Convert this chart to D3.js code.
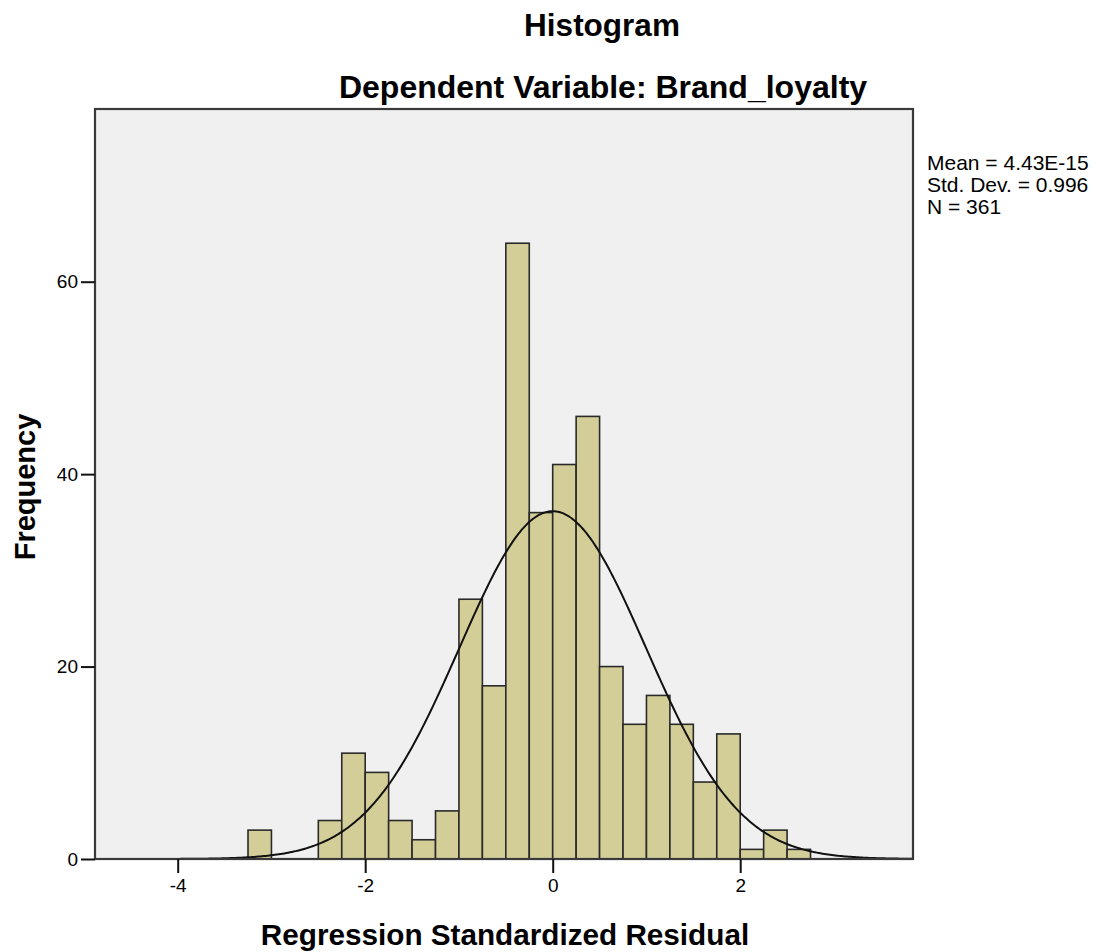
<!DOCTYPE html>
<html>
<head>
<meta charset="utf-8">
<script src="https://cdn.jsdelivr.net/npm/d3@7/dist/d3.min.js"></script>
<style>
  html, body { margin: 0; padding: 0; background: #ffffff; }
  svg { display: block; }
  text { font-family: "Liberation Sans", Arial, sans-serif; fill: #000; }
</style>
</head>
<body>
<svg id="chart" width="1096" height="952"></svg>
<script>
// ---- data ----
const binStarts = [-3.25, -3.0, -2.75, -2.5, -2.25, -2.0, -1.75, -1.5, -1.25, -1.0, -0.75, -0.5, -0.25,
                   0.0, 0.25, 0.5, 0.75, 1.0, 1.25, 1.5, 1.75, 2.0, 2.25, 2.5];
const frequencies = [3, 0, 0, 4, 11, 9, 4, 2, 5, 27, 18, 64, 36,
                     41, 46, 20, 14, 17, 14, 8, 13, 1, 3, 1];
const binWidth = 0.25;
const xTicks = [-4, -2, 0, 2];
const yTicks = [0, 20, 40, 60];
const statMean = 4.43e-15;
const statSD = 0.996;
const statN = 361;
const legendLines = ["Mean = 4.43E-15", "Std. Dev. = 0.996", "N = 361"];
const titleText = "Histogram";
const subtitleText = "Dependent Variable: Brand_loyalty";
const xLabel = "Regression Standardized Residual";
const yLabel = "Frequency";

// ---- layout ----
const plot = { left: 95, right: 913, top: 109, bottom: 859 };
const svg = d3.select("#chart");

const x = d3.scaleLinear().domain([-4.882, 3.843]).range([plot.left, plot.right]);
const y = d3.scaleLinear().domain([0, 77.95]).range([plot.bottom, plot.top]);

// plot background
svg.append("rect")
  .attr("x", plot.left).attr("y", plot.top)
  .attr("width", plot.right - plot.left).attr("height", plot.bottom - plot.top)
  .attr("fill", "#f0f0f0");

// bars
const bins = binStarts.map((s, i) => ({ x0: s, x1: s + binWidth, f: frequencies[i] })).filter(d => d.f > 0);
svg.append("g").selectAll("rect").data(bins).join("rect")
  .attr("x", d => x(d.x0))
  .attr("y", d => y(d.f))
  .attr("width", d => x(d.x1) - x(d.x0))
  .attr("height", d => y(0) - y(d.f))
  .attr("fill", "#d3ce97")
  .attr("stroke", "#2a2a2a")
  .attr("stroke-width", 1.6);

// normal curve from stats
const xs = d3.range(x.domain()[0], x.domain()[1] + 1e-9, 0.02);
const curve = xs.map(v => [v, statN * binWidth * Math.exp(-0.5 * ((v - statMean) / statSD) ** 2) / (statSD * Math.sqrt(2 * Math.PI))]);
svg.append("path")
  .datum(curve)
  .attr("fill", "none")
  .attr("stroke", "#111")
  .attr("stroke-width", 2)
  .attr("d", d3.line().x(d => x(d[0])).y(d => y(d[1])).curve(d3.curveBasis));

// frame
svg.append("rect")
  .attr("x", plot.left).attr("y", plot.top)
  .attr("width", plot.right - plot.left).attr("height", plot.bottom - plot.top)
  .attr("fill", "none")
  .attr("stroke", "#3a3a3a")
  .attr("stroke-width", 2.2);

// axes
const fmt = d => String(d);
const yAxis = d3.axisLeft(y).tickValues(yTicks).tickSize(14).tickPadding(3).tickFormat(fmt);
const gy = svg.append("g").attr("transform", `translate(${plot.left},0)`).call(yAxis);
gy.select(".domain").remove();
gy.selectAll(".tick line").attr("stroke", "#111").attr("stroke-width", 2);
gy.selectAll(".tick text").style("font-size", "19px").attr("font-family", "Liberation Sans, Arial, sans-serif");

const xAxis = d3.axisBottom(x).tickValues(xTicks).tickSize(14).tickPadding(6).tickFormat(fmt);
const gx = svg.append("g").attr("transform", `translate(0,${plot.bottom})`).call(xAxis);
gx.select(".domain").remove();
gx.selectAll(".tick line").attr("stroke", "#111").attr("stroke-width", 2);
gx.selectAll(".tick text").style("font-size", "19px").attr("font-family", "Liberation Sans, Arial, sans-serif");

// titles
svg.append("text").attr("x", 602).attr("y", 36).attr("text-anchor", "middle")
  .style("font-size", "31.5px").style("font-weight", "bold").text(titleText);
svg.append("text").attr("x", 603).attr("y", 98).attr("text-anchor", "middle")
  .style("font-size", "32px").style("font-weight", "bold").text(subtitleText);

// axis labels
svg.append("text").attr("x", 505).attr("y", 945).attr("text-anchor", "middle")
  .style("font-size", "29.7px").style("font-weight", "bold").text(xLabel);
svg.append("text").attr("transform", "translate(35,487) rotate(-90)").attr("text-anchor", "middle")
  .style("font-size", "29px").style("font-weight", "bold").text(yLabel);

// legend
svg.append("g").selectAll("text").data(legendLines).join("text")
  .attr("x", 927).attr("y", (d, i) => 170 + i * 22)
  .style("font-size", "21px")
  .text(d => d);
</script>
</body>
</html>
